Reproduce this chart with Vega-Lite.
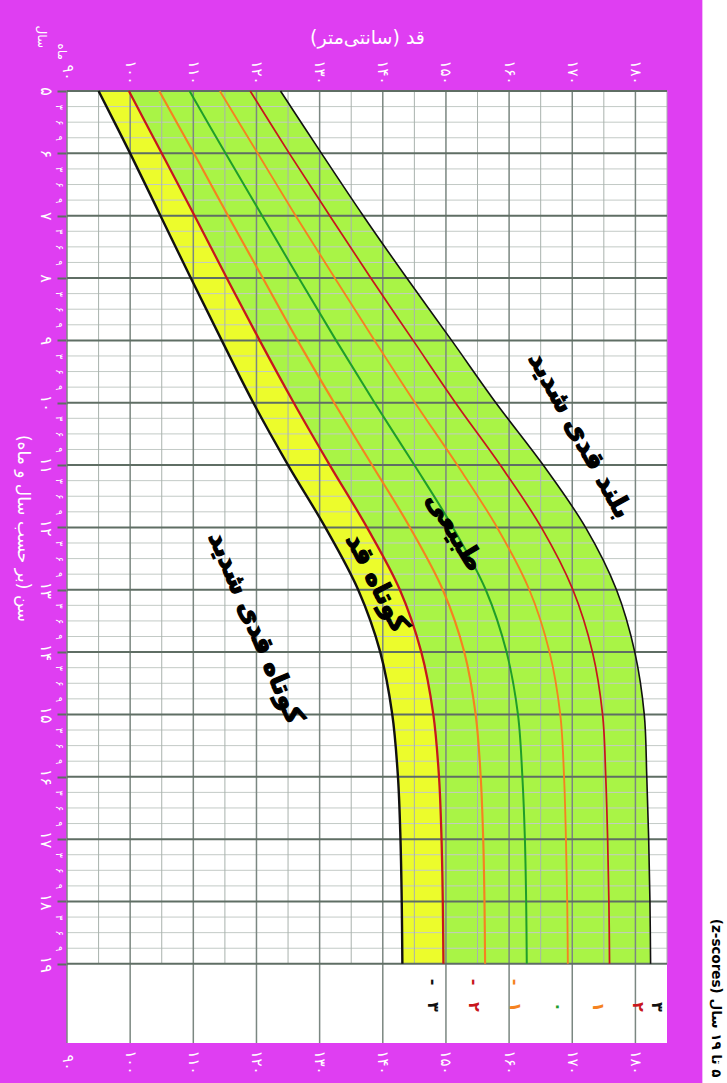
{
  "$schema": "https://vega.github.io/schema/vega-lite/v6.json",
  "width": 600,
  "height": 952,
  "autosize": "none",
  "padding": {"left": 67, "top": 91, "right": 60, "bottom": 40},
  "background": "#df3ef2",
  "config": {"view": {"fill": "white", "stroke": null}, "font": "DejaVu Sans"},
  "resolve": {"axis": {"x": "independent", "y": "independent"}},
  "datasets": {
    "curves": [
      {"age": 5, "m3": 95.0, "m2": 99.8, "m1": 104.6, "z0": 109.4, "p1": 114.2, "p2": 119.0, "p3": 123.8},
      {"age": 6, "m3": 100.0, "m2": 105.0, "m1": 110.1, "z0": 115.1, "p1": 120.2, "p2": 125.2, "p3": 130.3},
      {"age": 7, "m3": 104.8, "m2": 110.2, "m1": 115.5, "z0": 120.9, "p1": 126.2, "p2": 131.6, "p3": 136.9},
      {"age": 8, "m3": 109.6, "m2": 115.3, "m1": 121.0, "z0": 126.7, "p1": 132.4, "p2": 138.1, "p3": 143.8},
      {"age": 9, "m3": 114.5, "m2": 120.5, "m1": 126.5, "z0": 132.6, "p1": 138.7, "p2": 144.8, "p3": 150.9},
      {"age": 10, "m3": 119.5, "m2": 125.9, "m1": 132.3, "z0": 138.7, "p1": 145.1, "p2": 151.5, "p3": 157.9},
      {"age": 11, "m3": 125.0, "m2": 131.6, "m1": 138.3, "z0": 145.0, "p1": 151.8, "p2": 158.6, "p3": 165.4},
      {"age": 12, "m3": 130.9, "m2": 137.5, "m1": 144.3, "z0": 151.1, "p1": 158.1, "p2": 165.1, "p3": 172.1},
      {"age": 13, "m3": 136.1, "m2": 142.7, "m1": 149.5, "z0": 156.3, "p1": 163.2, "p2": 170.1, "p3": 177.0},
      {"age": 14, "m3": 139.6, "m2": 146.1, "m1": 152.9, "z0": 159.6, "p1": 166.4, "p2": 173.2, "p3": 179.9},
      {"age": 15, "m3": 141.5, "m2": 148.0, "m1": 154.7, "z0": 161.4, "p1": 168.1, "p2": 174.8, "p3": 181.4},
      {"age": 16, "m3": 142.4, "m2": 148.9, "m1": 155.5, "z0": 162.1, "p1": 168.7, "p2": 175.3, "p3": 181.8},
      {"age": 17, "m3": 142.8, "m2": 149.3, "m1": 155.9, "z0": 162.5, "p1": 169.0, "p2": 175.6, "p3": 182.1},
      {"age": 18, "m3": 143.0, "m2": 149.5, "m1": 156.1, "z0": 162.7, "p1": 169.2, "p2": 175.8, "p3": 182.3},
      {"age": 19, "m3": 143.1, "m2": 149.6, "m1": 156.2, "z0": 162.8, "p1": 169.3, "p2": 175.9, "p3": 182.4}
    ],
    "zlabels": [
      {"key": "m3", "label": "-\u00A0\u00A0\u00A0۳", "h": 148.0, "age": 19.77},
      {"key": "m2", "label": "-\u00A0\u00A0\u00A0۲", "h": 154.4, "age": 19.77},
      {"key": "m1", "label": "-\u00A0\u00A0\u00A0۱", "h": 161.0, "age": 19.77},
      {"key": "z0", "label": "۰", "h": 167.8, "age": 19.77},
      {"key": "p1", "label": "۱", "h": 174.1, "age": 19.77},
      {"key": "p2", "label": "۲", "h": 180.4, "age": 19.77},
      {"key": "p3", "label": "۳", "h": 183.4, "age": 19.77}
    ],
    "vmajor": [{"h": 90}, {"h": 100}, {"h": 110}, {"h": 120}, {"h": 130}, {"h": 140}, {"h": 150}, {"h": 160}, {"h": 170}, {"h": 180}],
    "vminor": [{"h": 95}, {"h": 105}, {"h": 115}, {"h": 125}, {"h": 135}, {"h": 145}, {"h": 155}, {"h": 165}, {"h": 175}, {"h": 185}],
    "hmajor": [{"a": 5}, {"a": 6}, {"a": 7}, {"a": 8}, {"a": 9}, {"a": 10}, {"a": 11}, {"a": 12}, {"a": 13}, {"a": 14}, {"a": 15}, {"a": 16}, {"a": 17}, {"a": 18}, {"a": 19}],
    "hminor": [
      {"a": 5.25}, {"a": 5.5}, {"a": 5.75}, {"a": 6.25}, {"a": 6.5}, {"a": 6.75}, {"a": 7.25}, {"a": 7.5}, {"a": 7.75},
      {"a": 8.25}, {"a": 8.5}, {"a": 8.75}, {"a": 9.25}, {"a": 9.5}, {"a": 9.75}, {"a": 10.25}, {"a": 10.5}, {"a": 10.75},
      {"a": 11.25}, {"a": 11.5}, {"a": 11.75}, {"a": 12.25}, {"a": 12.5}, {"a": 12.75}, {"a": 13.25}, {"a": 13.5}, {"a": 13.75},
      {"a": 14.25}, {"a": 14.5}, {"a": 14.75}, {"a": 15.25}, {"a": 15.5}, {"a": 15.75}, {"a": 16.25}, {"a": 16.5}, {"a": 16.75},
      {"a": 17.25}, {"a": 17.5}, {"a": 17.75}, {"a": 18.25}, {"a": 18.5}, {"a": 18.75}
    ]
  },
  "layer": [
    {
      "data": {"name": "curves"},
      "mark": {"type": "area", "orient": "horizontal", "interpolate": "catmull-rom", "color": "#ecfc2c"},
      "encoding": {
        "y": {
          "field": "age", "type": "quantitative",
          "scale": {"domain": [5, 20.27], "reverse": true, "nice": false, "zero": false},
          "axis": {
            "orient": "left",
            "values": [5, 5.25, 5.5, 5.75, 6, 6.25, 6.5, 6.75, 7, 7.25, 7.5, 7.75, 8, 8.25, 8.5, 8.75, 9, 9.25, 9.5, 9.75, 10, 10.25, 10.5, 10.75, 11, 11.25, 11.5, 11.75, 12, 12.25, 12.5, 12.75, 13, 13.25, 13.5, 13.75, 14, 14.25, 14.5, 14.75, 15, 15.25, 15.5, 15.75, 16, 16.25, 16.5, 16.75, 17, 17.25, 17.5, 17.75, 18, 18.25, 18.5, 18.75, 19],
            "domain": false, "grid": false,
            "ticks": true, "tickSize": 10, "tickWidth": 2, "tickColor": "#5f6e64",
            "tickOpacity": {"condition": {"test": "datum.value % 1 === 0", "value": 1}, "value": 0},
            "labelAngle": 90, "labelAlign": "center",
            "labelBaseline": {"condition": {"test": "datum.value % 1 === 0", "value": "top"}, "value": "bottom"},
            "labelFontSize": {"condition": {"test": "datum.value % 1 === 0", "value": 16}, "value": 10},
            "labelColor": "white", "labelPadding": 4, "labelOverlap": false, "labelFlush": false, "labelBound": false,
            "labelExpr": "datum.value % 1 === 0 ? ['۵','۶','۷','۸','۹','۱۰','۱۱','۱۲','۱۳','۱۴','۱۵','۱۶','۱۷','۱۸','۱۹'][round(datum.value - 5)] : ['','۳','۶','۹'][round((datum.value % 1) * 4)]",
            "title": "\u200Fسن (بر حسب سال و ماه)\u200F",
            "titleAngle": 90, "titleX": -45, "titleY": 437, "titleAlign": "center", "titleBaseline": "middle",
            "titleColor": "white", "titleFontSize": 17, "titleFontWeight": "normal"
          }
        },
        "x": {"field": "m3", "type": "quantitative", "stack": null, "scale": {"domain": [90, 185], "nice": false, "zero": false}, "axis": null},
        "x2": {"field": "m2"}
      }
    },
    {
      "data": {"name": "curves"},
      "mark": {"type": "area", "orient": "horizontal", "interpolate": "catmull-rom", "color": "#a9f446"},
      "encoding": {
        "y": {"field": "age", "type": "quantitative", "scale": {"domain": [5, 20.27], "reverse": true, "nice": false, "zero": false}, "axis": null},
        "x": {"field": "m2", "type": "quantitative", "stack": null, "scale": {"domain": [90, 185], "nice": false, "zero": false}, "axis": null},
        "x2": {"field": "p3"}
      }
    },
    {
      "data": {"name": "hminor"},
      "mark": {"type": "rule", "color": "#c3cac6", "strokeWidth": 1},
      "encoding": {
        "y": {"field": "a", "type": "quantitative", "scale": {"domain": [5, 20.27], "reverse": true, "nice": false, "zero": false}, "axis": null}
      }
    },
    {
      "data": {"name": "vminor"},
      "mark": {"type": "rule", "color": "#a9b2ad", "strokeWidth": 1},
      "encoding": {
        "x": {
          "field": "h", "type": "quantitative", "scale": {"domain": [90, 185], "nice": false, "zero": false},
          "axis": {
            "orient": "bottom", "values": [90, 100, 110, 120, 130, 140, 150, 160, 170, 180],
            "domain": false, "ticks": false, "grid": false,
            "labelAngle": 90, "labelAlign": "center", "labelBaseline": "middle", "labelPadding": 19,
            "labelFontSize": 15, "labelColor": "white", "labelOverlap": false, "labelFlush": false,
            "labelExpr": "['۹۰','۱۰۰','۱۱۰','۱۲۰','۱۳۰','۱۴۰','۱۵۰','۱۶۰','۱۷۰','۱۸۰'][round((datum.value - 90) / 10)]",
            "title": null
          }
        },
        "y": {"datum": 5, "type": "quantitative", "scale": {"domain": [5, 20.27], "reverse": true, "nice": false, "zero": false}, "axis": null},
        "y2": {"datum": 19}
      }
    },
    {
      "data": {"name": "vmajor"},
      "mark": {"type": "rule", "color": "#7b8781", "strokeWidth": 1.5},
      "encoding": {
        "x": {
          "field": "h", "type": "quantitative", "scale": {"domain": [90, 185], "nice": false, "zero": false},
          "axis": {
            "orient": "top", "values": [90, 100, 110, 120, 130, 140, 150, 160, 170, 180],
            "domain": false, "ticks": false, "grid": false,
            "labelAngle": 90, "labelAlign": "center", "labelBaseline": "middle", "labelPadding": 19,
            "labelFontSize": 15, "labelColor": "white", "labelOverlap": false, "labelFlush": false,
            "labelExpr": "['۹۰','۱۰۰','۱۱۰','۱۲۰','۱۳۰','۱۴۰','۱۵۰','۱۶۰','۱۷۰','۱۸۰'][round((datum.value - 90) / 10)]",
            "title": "\u200Fقد (سانتی‌متر)\u200F",
            "titleY": -54, "titleBaseline": "middle", "titleFontSize": 19, "titleColor": "white", "titleFontWeight": "normal"
          }
        }
      }
    },
    {
      "data": {"name": "hmajor"},
      "mark": {"type": "rule", "color": "#5f6e64", "strokeWidth": 2},
      "encoding": {
        "y": {"field": "a", "type": "quantitative", "scale": {"domain": [5, 20.27], "reverse": true, "nice": false, "zero": false}, "axis": null}
      }
    },
    {
      "data": {"name": "curves"},
      "transform": [{"fold": ["m3", "m2", "m1", "z0", "p1", "p2", "p3"], "as": ["key", "h"]}],
      "mark": {"type": "line", "interpolate": "catmull-rom"},
      "encoding": {
        "x": {"field": "h", "type": "quantitative", "scale": {"domain": [90, 185], "nice": false, "zero": false}, "axis": null},
        "y": {"field": "age", "type": "quantitative", "scale": {"domain": [5, 20.27], "reverse": true, "nice": false, "zero": false}, "axis": null},
        "order": {"field": "age", "type": "quantitative"},
        "color": {"field": "key", "type": "nominal", "scale": {"domain": ["m3", "m2", "m1", "z0", "p1", "p2", "p3"], "range": ["#111111", "#c8161d", "#f58220", "#1f9e2a", "#f58220", "#c8161d", "#111111"]}, "legend": null},
        "strokeWidth": {"field": "key", "type": "nominal", "scale": {"domain": ["m3", "m2", "m1", "z0", "p1", "p2", "p3"], "range": [2.4, 1.6, 1.6, 1.6, 1.6, 1.6, 2.4]}, "legend": null}
      }
    },
    {
      "data": {"name": "zlabels"},
      "mark": {"type": "text", "angle": 90, "align": "right", "baseline": "middle", "fontSize": 16, "fontWeight": "bold", "font": "DejaVu Sans"},
      "encoding": {
        "x": {"field": "h", "type": "quantitative", "scale": {"domain": [90, 185], "nice": false, "zero": false}, "axis": null},
        "y": {"field": "age", "type": "quantitative", "scale": {"domain": [5, 20.27], "reverse": true, "nice": false, "zero": false}, "axis": null},
        "text": {"field": "label"},
        "color": {"field": "key", "type": "nominal", "scale": {"domain": ["m3", "m2", "m1", "z0", "p1", "p2", "p3"], "range": ["#111111", "#c8161d", "#f58220", "#1f9e2a", "#f58220", "#c8161d", "#111111"]}, "legend": null}
      }
    },
    {
      "data": {"values": [{"t": "بلند قدی شدید", "h": 171.2, "age": 10.52}]},
      "mark": {"type": "text", "angle": 61, "align": "center", "baseline": "middle", "fontSize": 26, "fontWeight": "bold", "font": "DejaVu Sans", "color": "black", "stroke": "black", "strokeWidth": 1.2},
      "encoding": {
        "x": {"field": "h", "type": "quantitative", "scale": {"domain": [90, 185], "nice": false, "zero": false}, "axis": null},
        "y": {"field": "age", "type": "quantitative", "scale": {"domain": [5, 20.27], "reverse": true, "nice": false, "zero": false}, "axis": null},
        "text": {"field": "t"}
      }
    },
    {
      "data": {"values": [{"t": "طبیعی", "h": 151.4, "age": 12.07}]},
      "mark": {"type": "text", "angle": 59, "align": "center", "baseline": "middle", "fontSize": 26, "fontWeight": "bold", "font": "DejaVu Sans", "color": "black", "stroke": "black", "strokeWidth": 1.2},
      "encoding": {
        "x": {"field": "h", "type": "quantitative", "scale": {"domain": [90, 185], "nice": false, "zero": false}, "axis": null},
        "y": {"field": "age", "type": "quantitative", "scale": {"domain": [5, 20.27], "reverse": true, "nice": false, "zero": false}, "axis": null},
        "text": {"field": "t"}
      }
    },
    {
      "data": {"values": [{"t": "کوتاه قد", "h": 139.1, "age": 12.89}]},
      "mark": {"type": "text", "angle": 63, "align": "center", "baseline": "middle", "fontSize": 26, "fontWeight": "bold", "font": "DejaVu Sans", "color": "black", "stroke": "black", "strokeWidth": 1.2},
      "encoding": {
        "x": {"field": "h", "type": "quantitative", "scale": {"domain": [90, 185], "nice": false, "zero": false}, "axis": null},
        "y": {"field": "age", "type": "quantitative", "scale": {"domain": [5, 20.27], "reverse": true, "nice": false, "zero": false}, "axis": null},
        "text": {"field": "t"}
      }
    },
    {
      "data": {"values": [{"t": "کوتاه قدی شدید", "h": 119.9, "age": 13.61}]},
      "mark": {"type": "text", "angle": 67, "align": "center", "baseline": "middle", "fontSize": 26, "fontWeight": "bold", "font": "DejaVu Sans", "color": "black", "stroke": "black", "strokeWidth": 1.2},
      "encoding": {
        "x": {"field": "h", "type": "quantitative", "scale": {"domain": [90, 185], "nice": false, "zero": false}, "axis": null},
        "y": {"field": "age", "type": "quantitative", "scale": {"domain": [5, 20.27], "reverse": true, "nice": false, "zero": false}, "axis": null},
        "text": {"field": "t"}
      }
    },
    {
      "data": {"values": [{"t": "سال", "h": 86.0, "age": 4.13}, {"t": "ماه", "h": 89.2, "age": 4.37}]},
      "mark": {"type": "text", "angle": 90, "align": "center", "baseline": "middle", "fontSize": 12, "font": "DejaVu Sans", "color": "white"},
      "encoding": {
        "x": {"field": "h", "type": "quantitative", "scale": {"domain": [90, 185], "nice": false, "zero": false}, "axis": null},
        "y": {"field": "age", "type": "quantitative", "scale": {"domain": [5, 20.27], "reverse": true, "nice": false, "zero": false}, "axis": null},
        "text": {"field": "t"}
      }
    },
    {
      "data": {"values": [{}]},
      "mark": {"type": "rect", "color": "white"},
      "encoding": {
        "x": {"datum": 190.6, "type": "quantitative", "scale": {"domain": [90, 185], "nice": false, "zero": false}, "axis": null},
        "x2": {"datum": 200},
        "y": {"datum": 3, "type": "quantitative", "scale": {"domain": [5, 20.27], "reverse": true, "nice": false, "zero": false}, "axis": null},
        "y2": {"datum": 22}
      }
    },
    {
      "data": {"values": [{"t": "(z-scores) \u200F۵ تا ۱۹ سال", "h": 192.76, "age": 19.55}]},
      "mark": {"type": "text", "angle": 90, "align": "center", "baseline": "middle", "fontSize": 13.5, "fontWeight": "bold", "font": "DejaVu Sans", "color": "black"},
      "encoding": {
        "x": {"field": "h", "type": "quantitative", "scale": {"domain": [90, 185], "nice": false, "zero": false}, "axis": null},
        "y": {"field": "age", "type": "quantitative", "scale": {"domain": [5, 20.27], "reverse": true, "nice": false, "zero": false}, "axis": null},
        "text": {"field": "t"}
      }
    }
  ]
}
